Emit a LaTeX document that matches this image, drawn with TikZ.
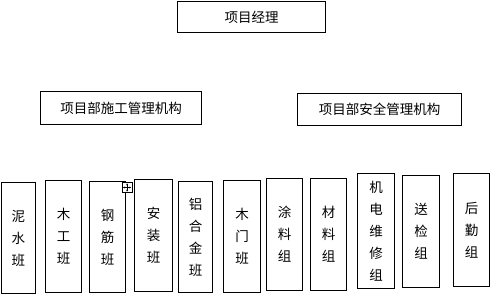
\documentclass[tikz,border=0pt]{standalone}
\usepackage{fontspec}
\newfontfamily\cjk{Noto Sans CJK SC}
\usetikzlibrary{arrows.meta}
\begin{document}
\begin{tikzpicture}[x=1pt,y=-1pt,
  box/.style={draw=black,line width=1.8pt,inner sep=0pt,outer sep=0pt,font=\cjk\fontsize{13.5}{22}\selectfont,align=center},
  hbox/.style={box},
  vbox/.style={box}]
\useasboundingbox[fill=white] (0,0) rectangle (490,295);
% top
\node[hbox,minimum width=148pt,minimum height=31pt] (pm) at (251.5,17) {项目经理};
\node[hbox,minimum width=161pt,minimum height=33pt] (cons) at (121,108) {项目部施工管理机构};
\node[hbox,minimum width=164pt,minimum height=32pt] (safe) at (379.5,109.5) {项目部安全管理机构};
% bottom
\node[vbox,minimum width=34pt,minimum height=111pt] (b1) at (18.5,238) {泥\\水\\班};
\node[vbox,minimum width=36pt,minimum height=112pt] (b2) at (63.5,236.5) {木\\工\\班};
\node[vbox,minimum width=36pt,minimum height=111pt] (b3) at (107.5,237) {钢\\筋\\班};
\node[vbox,minimum width=38pt,minimum height=112pt] (b4) at (153.5,235.5) {安\\装\\班};
\node[vbox,minimum width=34pt,minimum height=111pt] (b5) at (195.5,237) {铝\\合\\金\\班};
\node[vbox,minimum width=37pt,minimum height=112pt] (b6) at (242,236.5) {木\\门\\班};
\node[vbox,minimum width=36pt,minimum height=112pt] (b7) at (284.5,234.5) {涂\\料\\组};
\node[vbox,minimum width=36pt,minimum height=112pt] (b8) at (328.5,234.5) {材\\料\\组};
\node[vbox,minimum width=37pt,minimum height=115pt] (b9) at (376,231) {机\\电\\维\\修\\组};
\node[vbox,minimum width=37pt,minimum height=112pt] (b10) at (421,231.5) {送\\检\\组};
\node[vbox,minimum width=36pt,minimum height=113pt] (b11) at (471.5,230) {后\\勤\\组};
% move handle
\node[draw=black,line width=0.5pt,fill=white,minimum width=10pt,minimum height=10pt,inner sep=0pt] (h) at (127,187.5) {};
\draw[line width=0.5pt,{Stealth[length=2pt]}-{Stealth[length=2pt]}] ([xshift=1pt]h.west) -- ([xshift=-1pt]h.east);
\draw[line width=0.5pt,{Stealth[length=2pt]}-{Stealth[length=2pt]}] ([yshift=-1pt]h.north) -- ([yshift=1pt]h.south);
\end{tikzpicture}
\end{document}
